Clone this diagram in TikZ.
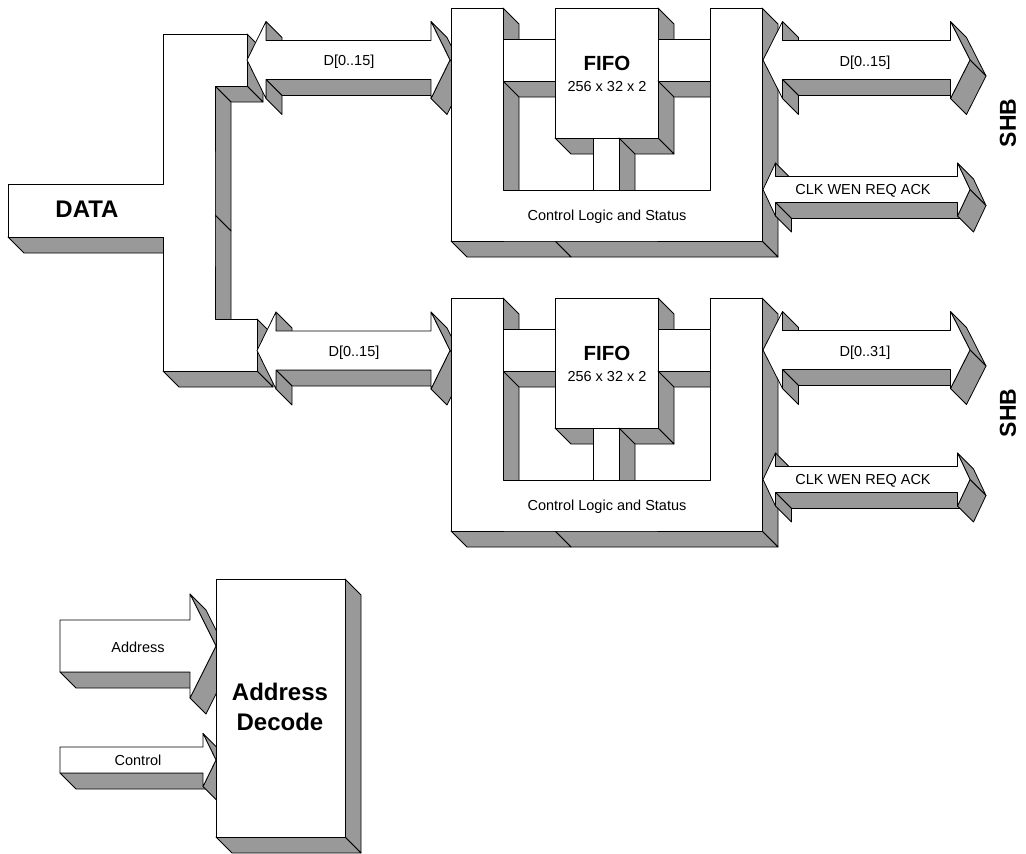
\documentclass[tikz,border=0pt]{standalone}
\usepackage{fontspec}
\setmainfont{Liberation Sans}
\definecolor{shade}{HTML}{999999}
% one pass over the side faces of an extruded polygon
% (screen-clockwise vertex list, y downwards); #4 = 0 straight edges, 1 slanted edges
\newcommand\sidepass[4]{%
  \foreach \x/\y [remember=\x as \px (initially #1), remember=\y as \py (initially #2)] in {#3}{%
    \pgfmathtruncatemacro\ff{((\y)-(\py))-((\x)-(\px))>0}%
    \pgfmathtruncatemacro\gg{((\x)!=(\px))&&((\y)!=(\py))}%
    \ifnum\ff>0
      \ifnum\gg=#4
        \filldraw[side] (\px,\py) -- (\x,\y) -- (\x+16,\y+16) -- (\px+16,\py+16) -- cycle;
      \fi
    \fi}}
\newcommand\sides[3]{\sidepass{#1}{#2}{#3}{0}\sidepass{#1}{#2}{#3}{1}}
\newcommand\face[3]{\filldraw[front] (#1,#2) \foreach \x/\y in {#3}{ -- (\x,\y)} -- cycle;}
\newcommand\solid[3]{\sides{#1}{#2}{#3}\face{#1}{#2}{#3}}
% double headed bus: xl xr yc shaft-half head-half head-length
\newcommand\dbus[6]{%
  \pgfmathsetmacro\bxa{#1+#6}\pgfmathsetmacro\bxb{#2-#6}%
  \pgfmathsetmacro\bya{#3-#5}\pgfmathsetmacro\byb{#3-#4}%
  \pgfmathsetmacro\byc{#3+#4}\pgfmathsetmacro\byd{#3+#5}%
  \solid{#1}{#3}{\bxa/\bya, \bxa/\byb, \bxb/\byb, \bxb/\bya, #2/#3, \bxb/\byd, \bxb/\byc, \bxa/\byc, \bxa/\byd, #1/#3}}
% single headed bus: xtail xbarb xtip yc shaft-half head-half
\newcommand\sbus[6]{%
  \pgfmathsetmacro\bya{#4-#6}\pgfmathsetmacro\byb{#4-#5}%
  \pgfmathsetmacro\byc{#4+#5}\pgfmathsetmacro\byd{#4+#6}%
  \solid{#1}{\byb}{#2/\byb, #2/\bya, #3/#4, #2/\byd, #2/\byc, #1/\byc, #1/\byb}}
\newcommand\fifoblock[2]{%
  \sides{451}{8}{503/8, 503/190, 710/190, 710/8, 762/8, 762/241, 555/241, 451/241, 451/8}
  \solid{503}{39}{555/39, 555/81, 503/81, 503/39}
  \solid{555}{8}{658/8, 658/138, 555/138, 555/8}
  \solid{658}{39}{710/39, 710/81, 658/81, 658/39}
  \solid{593}{138}{619/138, 619/190, 593/190, 593/138}
  \face{451}{8}{503/8, 503/190, 710/190, 710/8, 762/8, 762/241, 555/241, 451/241, 451/8}
  \dbus{763}{970}{60}{19.5}{38.5}{19.5}
  \dbus{763}{970}{189.5}{13}{26.5}{12.5}
  \node[fifolbl] (#1fifo) at (607,70.5) {FIFO};
  \node[lbl] (#1size) at (607,91) {256 x 32 x 2};
  \node[lbl] (#1ctrl) at (607,220) {Control Logic and Status};
  \node[lbl] (#1out) at (865,66.5) {#2};
  \node[lbl] (#1clk) at (863,194.5) {CLK WEN REQ ACK};
  \node[font=\fontsize{23}{28}\selectfont\bfseries, rotate=90, inner sep=0pt] (#1shb) at (1008,123) {SHB};
}
\begin{document}
\begin{tikzpicture}[x=1pt,y=-1pt,
  side/.style={fill=shade,draw=black,line width=0.8pt,line join=round},
  front/.style={fill=white,draw=black,line width=0.8pt,line join=round},
  lbl/.style={font=\fontsize{14.5}{17}\selectfont,inner sep=0pt,anchor=base},
  big/.style={font=\fontsize{24}{28}\selectfont\bfseries,inner sep=0pt,anchor=base},
  fifolbl/.style={font=\fontsize{20.5}{24}\selectfont\bfseries,inner sep=0pt,anchor=base}]
\useasboundingbox (0,0) rectangle (1026,854);
\solid{8}{184}{163/184, 163/34, 247/34, 247/86, 215/86, 215/215, 215/319, 257/319, 257/371, 163/371, 163/237, 8/237, 8/184}
\dbus{247}{450}{60}{19.5}{38.5}{19}
\dbus{257}{450}{350.5}{19.5}{38.5}{19}
\fifoblock{t}{D[0..15]}
\begin{scope}[shift={(0,290)}]
\fifoblock{b}{D[0..31]}
\end{scope}
\sbus{60}{190}{216}{646}{26}{52}
\sbus{60}{203}{216}{760}{13}{26.5}
\solid{216}{579}{345/579, 345/837, 216/837, 216/579}
\node[big] (data) at (87,217) {DATA};
\node[lbl] (dtop) at (349,65.5) {D[0..15]};
\node[lbl] (dbot) at (354,356) {D[0..15]};
\node[lbl] (addr) at (138,652) {Address};
\node[lbl] (ctl) at (138,765) {Control};
\node[big] (dec1) at (280,700) {Address};
\node[big] (dec2) at (280,730) {Decode};
\end{tikzpicture}
\end{document}
